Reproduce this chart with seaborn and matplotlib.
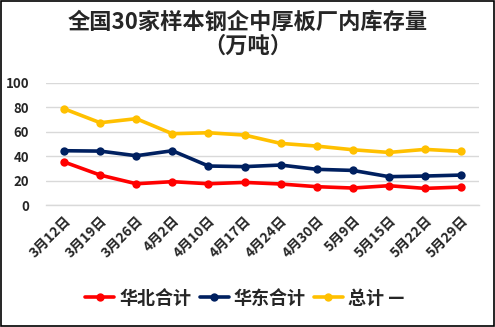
import matplotlib
matplotlib.use("Agg")
import matplotlib.pyplot as plt
import seaborn as sns
import pandas as pd
from matplotlib.patches import Rectangle

dates = ["3月12日", "3月19日", "3月26日", "4月2日", "4月10日", "4月17日",
         "4月24日", "4月30日", "5月9日", "5月15日", "5月22日", "5月29日"]
huabei = [35.2, 24.5, 17.4, 19.1, 17.4, 18.5, 17.2, 15.0, 13.9, 15.8, 13.6, 14.7]
huadong = [44.4, 44.1, 40.3, 44.4, 31.9, 31.4, 32.7, 29.2, 28.3, 23.2, 23.7, 24.5]
zongji = [78.7, 67.3, 70.6, 58.3, 59.1, 57.2, 50.4, 48.2, 45.2, 43.0, 45.5, 43.9]
series_names = ["华北合计", "华东合计", "总计 —"]
colors = ["#FF0000", "#002060", "#FFC000"]
title_line1 = "全国30家样本钢企中厚板厂内库存量"
title_line2 = "（万吨）"

sns.set_theme(style="white")
plt.rcParams['font.family'] = ['Noto Sans CJK SC', 'DejaVu Sans']

df = pd.DataFrame({
    "date": dates * 3,
    "value": huabei + huadong + zongji,
    "series": [series_names[0]] * 12 + [series_names[1]] * 12 + [series_names[2]] * 12,
})

fig = plt.figure(figsize=(4.95, 3.27), dpi=100)
ax = fig.add_axes([0.093, 0.373, 0.875, 0.374])

sns.lineplot(data=df, x="date", y="value", hue="series", palette=colors,
             marker="o", markersize=6, markeredgewidth=0, linewidth=2.6,
             sort=False, ax=ax, legend=True)

ax.set_xlim(-0.5, len(dates) - 0.5)
ax.set_ylim(0, 100)
ax.set_yticks([0, 20, 40, 60, 80, 100])
ax.grid(axis="y", color="#D9D9D9", linewidth=1)
ax.set_axisbelow(True)
for s in ["top", "right", "left"]:
    ax.spines[s].set_visible(False)
ax.spines["bottom"].set_color("#D9D9D9")
ax.spines["bottom"].set_linewidth(1)

ax.set_xticks(range(len(dates)))
ax.set_xticklabels(dates, rotation=45, ha="right", rotation_mode="anchor",
                   fontsize=10, fontweight="bold")
ax.tick_params(axis="x", length=0, pad=6)
ax.set_xticks([i - 0.5 for i in range(len(dates) + 1)], minor=True)
ax.tick_params(axis="x", which="minor", length=5, color="#D9D9D9", width=1, direction="out")
ax.tick_params(axis="y", length=0, labelsize=9.5, pad=12)
for t in ax.get_yticklabels():
    t.set_fontweight("bold")
ax.set_xlabel("")
ax.set_ylabel("")

fig.text(0.5, 1 - 22 / 327, title_line1, ha="center", va="center",
         fontsize=16, fontweight="bold")
fig.text(0.5, 1 - 46 / 327, title_line2, ha="center", va="center",
         fontsize=16, fontweight="bold")

handles, labels = ax.get_legend_handles_labels()
ax.legend_.remove()
fig.legend(handles, labels, loc="center", bbox_to_anchor=(0.495, 1 - 298 / 327), ncol=3,
           frameon=False, handlelength=1.6, columnspacing=0.45,
           handletextpad=0.3, prop={"size": 13, "weight": "bold"})

fig.patches.append(Rectangle((0.002, 0.003), 0.995, 0.994, transform=fig.transFigure,
                             fill=False, edgecolor="black", linewidth=1.2))

fig.savefig("out.png", dpi=100)
